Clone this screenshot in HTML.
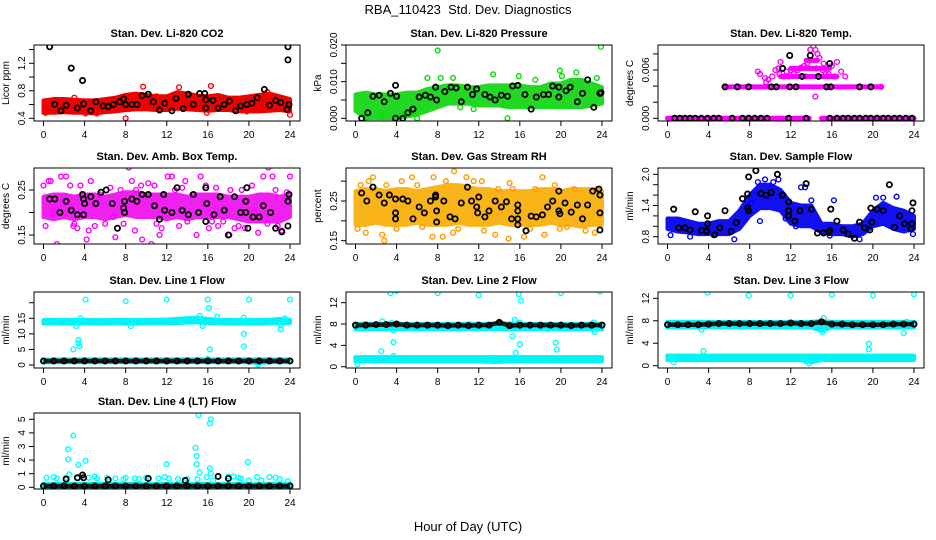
<!DOCTYPE html>
<html><head><meta charset="utf-8">
<style>
html,body{margin:0;padding:0;background:#fff;}
svg{display:block;font-family:"Liberation Sans",Arial,sans-serif;}
svg text{white-space:pre;}
</style></head>
<body>
<svg id="chart" width="936" height="540" viewBox="0 0 936 540">
<rect x="0" y="0" width="936" height="540" fill="#fff"/>
<text x="468" y="14" text-anchor="middle" font-size="13" xml:space="preserve">RBA_110423  Std. Dev. Diagnostics</text>
<text x="468" y="531" text-anchor="middle" font-size="13">Hour of Day (UTC)</text>
</svg>
<script>
// ---------------- DATA ----------------
const xTicks = [0,4,8,12,16,20,24];

// CO2
const co2Lo = [0.48,0.48,0.49,0.48,0.48,0.47,0.49,0.50,0.52,0.53,0.53,0.52,0.52,0.54,0.53,0.52,0.51,0.52,0.52,0.50,0.50,0.50,0.51,0.52,0.50];
const co2Hi = [0.66,0.68,0.68,0.67,0.66,0.66,0.68,0.70,0.74,0.76,0.74,0.72,0.72,0.78,0.76,0.73,0.72,0.74,0.70,0.70,0.72,0.74,0.76,0.72,0.68];
const co2Pts = [[8,0.4],[9.7,0.86],[13.2,0.85],[16.3,0.87],[24,0.45],[4.1,0.47],[0.2,0.48],[15.9,0.48],[19.8,0.5],[5.2,0.47],[3,0.7],[11,0.72],[21.8,0.78]];
const co2Blk = [[0.6,1.44],[2.7,1.13],[3.8,0.95],[23.8,1.44],[23.8,1.25],[1.1,0.6],[1.7,0.51],[2.2,0.59],[3.3,0.55],[3.9,0.61],[4.6,0.51],[5.1,0.64],[5.8,0.58],[6.3,0.57],[6.8,0.6],[7.4,0.64],[7.8,0.68],[8.0,0.6],[8.6,0.6],[9.1,0.6],[9.6,0.73],[10.2,0.75],[10.7,0.64],[11.3,0.52],[11.8,0.62],[12.5,0.51],[12.9,0.69],[13.6,0.54],[14.1,0.75],[14.6,0.6],[15.2,0.76],[15.7,0.76],[15.8,0.67],[15.8,0.55],[16.5,0.66],[17.0,0.55],[17.6,0.6],[18.1,0.65],[18.7,0.51],[19.2,0.58],[19.8,0.6],[20.3,0.62],[20.8,0.7],[21.5,0.82],[22.0,0.59],[22.6,0.66],[23.1,0.63],[23.7,0.53],[23.9,0.6]];

// Pressure
const prLo = [0.002,0.0,0.0,0.0,0.0,0.0005,0.001,0.002,0.003,0.004,0.004,0.004,0.0035,0.0035,0.0035,0.003,0.003,0.003,0.003,0.003,0.003,0.003,0.003,0.0035,0.004];
const prHi = [0.0065,0.007,0.0065,0.0065,0.0065,0.007,0.007,0.008,0.0085,0.009,0.009,0.0085,0.0085,0.009,0.009,0.009,0.009,0.0085,0.0085,0.0095,0.0095,0.0105,0.0105,0.0095,0.0085];
const prPts = [[8,0.0185],[23.9,0.0195],[7,0.011],[8.3,0.011],[9.5,0.011],[13.4,0.012],[15.9,0.0115],[19.9,0.013],[21.5,0.0125],[20.1,0.0115],[14.8,0.0],[14.5,0.0035],[6,0.0],[10.2,0.003],[11.5,0.0025],[17.5,0.0105],[23.5,0.011],[1,0.0002],[2.5,0.0005],[4.5,0.001],[5.5,0.0015]];
const prBlk = [[0.6,0.0],[1.2,0.0015],[1.7,0.006],[2.3,0.0063],[2.8,0.0045],[3.4,0.0068],[3.9,0.009],[4.0,0.006],[3.9,0.0],[4.6,0.0],[5.1,0.0015],[5.6,0.0025],[6.2,0.0058],[6.8,0.0063],[7.3,0.0058],[7.8,0.0085],[7.9,0.005],[8.7,0.0073],[9.3,0.0085],[9.8,0.0083],[10.3,0.0045],[10.9,0.0085],[11.4,0.0065],[11.8,0.008],[12.6,0.0065],[13.1,0.0058],[13.6,0.005],[14.2,0.0063],[14.8,0.006],[15.3,0.0088],[15.8,0.009],[16.5,0.0065],[17.1,0.0025],[17.6,0.0058],[18.3,0.0065],[18.8,0.0065],[19.2,0.0088],[19.8,0.0085],[19.8,0.0058],[20.5,0.0075],[20.9,0.0085],[21.6,0.0045],[22.1,0.0068],[22.6,0.0105],[23.2,0.003],[23.9,0.007],[23.8,0.0068]];

// Li-820 Temp: level segments [start hour, end hour, value]
const tmSegs = [[0,13.8,0],[15,24,0],[5.5,20.8,0.0039],[11,16.5,0.0052],[12,15.8,0.0062],[13.5,14.6,0.0072]];
const tmPts = [[8.8,0.0058],[9.0,0.0055],[9.5,0.005],[9.6,0.0045],[9.8,0.0048],[10.2,0.0052],[10.5,0.006],[10.9,0.0055],[11.0,0.007],[11.4,0.0052],[11.6,0.0058],[12.3,0.0055],[12.7,0.006],[13.0,0.0063],[13.3,0.0065],[13.6,0.0068],[13.9,0.0085],[14.0,0.0095],[14.2,0.009],[14.4,0.0085],[14.6,0.008],[14.8,0.0075],[15.1,0.006],[15.4,0.0055],[15.7,0.0055],[16.0,0.0065],[16.5,0.007],[16.9,0.0058],[17.3,0.0052],[14.4,0.0027],[12.0,0.006],[10.8,0.0062],[13.5,0.0052],[14.5,0.0062],[15.2,0.0068],[16.3,0.0052],[11.8,0.0052],[20.8,0.0039]];
const tmBlk0 = [0.7,1.2,1.7,2.2,2.7,3.3,3.9,4.5,5.0,6.3,7.3,7.9,8.5,9.1,9.7,11.8,13.5,15.8,16.5,17.1,17.6,18.2,18.7,19.3,19.8,20.4,21.0,21.5,22.1,22.6,23.2,23.8];
const tmBlk = [[5.6,0.0039],[6.8,0.0039],[7.9,0.0039],[10.1,0.0039],[10.6,0.0039],[11.9,0.0039],[12.5,0.0039],[15.5,0.0039],[15.9,0.0039],[18.7,0.0039],[19.8,0.0039],[11.9,0.0078],[11.2,0.0062],[13.9,0.0078],[13.1,0.0052],[14.7,0.0052],[15.8,0.0068]];

// Amb Box Temp
const abLo = [0.19,0.185,0.19,0.185,0.19,0.19,0.185,0.19,0.195,0.19,0.19,0.19,0.185,0.19,0.185,0.19,0.19,0.19,0.19,0.185,0.18,0.18,0.18,0.18,0.19];
const abHi = [0.235,0.24,0.24,0.235,0.24,0.24,0.235,0.24,0.245,0.245,0.24,0.24,0.24,0.24,0.235,0.24,0.24,0.24,0.235,0.235,0.235,0.24,0.24,0.235,0.24];
const abPts = [[0,0.26],[0.5,0.27],[0.7,0.27],[0.2,0.17],[1.3,0.13],[1.7,0.28],[2.2,0.28],[2.6,0.26],[2.9,0.17],[3.3,0.165],[3.6,0.26],[4.2,0.14],[4.4,0.16],[4.6,0.27],[5.5,0.24],[6.0,0.175],[6.5,0.255],[7.0,0.145],[7.5,0.25],[8.3,0.3],[8.6,0.27],[8.9,0.16],[9.5,0.26],[9.6,0.14],[10.2,0.265],[10.5,0.13],[10.8,0.26],[11.3,0.15],[11.5,0.165],[12.1,0.28],[12.5,0.28],[13.2,0.17],[13.8,0.27],[14.0,0.18],[14.5,0.24],[14.9,0.15],[15.3,0.28],[15.8,0.26],[16.1,0.165],[16.4,0.18],[17.0,0.17],[17.5,0.18],[18.1,0.15],[18.6,0.165],[19.0,0.17],[19.6,0.165],[20.3,0.26],[20.9,0.155],[21.4,0.28],[21.9,0.3],[22.3,0.28],[22.6,0.25],[22.8,0.17],[23.2,0.16],[23.7,0.245],[24.0,0.28],[5.0,0.17],[6.8,0.19],[9.0,0.25],[12.8,0.25],[19.3,0.25],[20.5,0.2],[1.0,0.2],[3.0,0.175],[7.8,0.175],[11.0,0.175],[13.5,0.255],[16.8,0.255],[18.2,0.25],[21.8,0.175]];
const abBlk = [[0.6,0.23],[1.1,0.23],[1.6,0.2],[2.2,0.225],[2.7,0.205],[3.3,0.195],[3.8,0.24],[3.9,0.23],[4.0,0.22],[3.9,0.195],[4.6,0.235],[5.1,0.22],[5.6,0.245],[6.1,0.25],[6.7,0.22],[7.2,0.165],[7.9,0.225],[7.8,0.21],[7.9,0.2],[8.6,0.23],[9.1,0.225],[9.6,0.24],[10.2,0.24],[10.8,0.215],[11.3,0.185],[11.7,0.24],[11.8,0.205],[12.5,0.2],[13.0,0.255],[13.5,0.205],[14.1,0.195],[14.6,0.24],[15.1,0.2],[15.8,0.255],[15.8,0.18],[15.9,0.22],[16.6,0.195],[17.2,0.235],[17.6,0.205],[18.0,0.15],[18.6,0.235],[19.2,0.2],[19.7,0.2],[19.7,0.225],[19.8,0.255],[19.9,0.165],[20.4,0.19],[21.0,0.19],[21.4,0.215],[22.1,0.2],[22.6,0.165],[23.2,0.157],[23.8,0.225],[23.9,0.24],[23.8,0.17]];

// Gas Stream RH
const rhLo = [0.19,0.19,0.195,0.19,0.19,0.19,0.195,0.19,0.19,0.19,0.195,0.19,0.19,0.19,0.195,0.19,0.19,0.19,0.19,0.195,0.19,0.19,0.185,0.19,0.19];
const rhHi = [0.275,0.28,0.28,0.275,0.28,0.28,0.275,0.28,0.285,0.29,0.29,0.285,0.28,0.28,0.275,0.275,0.275,0.275,0.28,0.28,0.275,0.28,0.28,0.28,0.275];
const rhPts = [[0.5,0.29],[1.3,0.3],[1.7,0.31],[1.0,0.17],[2.6,0.165],[2.8,0.15],[3.3,0.27],[4.5,0.3],[5.5,0.31],[6.0,0.29],[7.6,0.31],[7.5,0.16],[8.5,0.16],[8.8,0.3],[9.6,0.325],[9.5,0.17],[10.8,0.31],[11.5,0.3],[12.3,0.3],[13.6,0.165],[13.9,0.28],[14.9,0.155],[15.3,0.28],[16.4,0.16],[17.5,0.28],[18.2,0.31],[18.4,0.165],[19.4,0.29],[19.9,0.18],[21.3,0.28],[22.4,0.175],[23.3,0.17],[23.5,0.28],[4,0.18],[12.5,0.175],[20.6,0.185],[0.2,0.18],[6.5,0.185],[10,0.18],[17,0.18],[3,0.29],[15,0.295]];
const rhBlk = [[0.6,0.27],[1.1,0.25],[1.7,0.285],[2.3,0.265],[2.8,0.245],[3.3,0.265],[3.9,0.255],[3.9,0.22],[3.9,0.205],[4.6,0.255],[5.1,0.25],[5.6,0.205],[6.2,0.235],[6.7,0.22],[7.3,0.25],[7.8,0.26],[7.8,0.265],[7.9,0.225],[7.9,0.197],[8.6,0.25],[9.2,0.21],[9.7,0.205],[10.3,0.245],[10.9,0.285],[11.3,0.25],[11.8,0.235],[11.9,0.22],[12.0,0.26],[12.6,0.21],[13.0,0.225],[13.6,0.25],[14.2,0.235],[14.7,0.248],[15.2,0.205],[15.8,0.24],[15.8,0.225],[15.8,0.205],[15.8,0.19],[16.6,0.175],[17.1,0.212],[17.6,0.21],[18.2,0.215],[18.7,0.235],[19.2,0.25],[19.8,0.275],[19.8,0.225],[19.9,0.218],[20.4,0.245],[21.0,0.222],[21.6,0.24],[22.1,0.205],[22.6,0.24],[23.1,0.275],[23.7,0.28],[23.8,0.265],[23.8,0.22],[23.8,0.177]];

// Sample Flow
const sfLo = [0.95,0.9,0.88,0.85,0.85,0.85,0.85,0.95,1.2,1.35,1.35,1.3,1.05,1.0,1.0,0.88,0.85,0.85,0.8,0.85,1.0,1.05,0.95,0.9,0.95];
const sfHi = [1.15,1.15,1.1,1.05,1.05,1.1,1.1,1.3,1.6,1.8,1.8,1.7,1.45,1.4,1.4,1.05,1.05,1.0,1.0,1.05,1.3,1.45,1.35,1.3,1.2];
const sfPts = [[0.3,0.83],[2.2,0.8],[4.5,0.83],[6.5,0.75],[8.8,1.85],[10.8,1.9],[11.3,1.6],[13.0,1.75],[13.4,1.75],[14.0,1.5],[16.2,1.5],[15.8,0.82],[18.7,0.75],[20.3,1.55],[21.0,1.55],[22.3,1.57],[23.9,0.85],[12.5,1.0],[9,1.1],[11.5,1.15],[8.2,1.45],[9.5,1.9],[10.3,1.85]];
const sfBlk = [[0.6,1.33],[1.1,0.97],[1.7,0.97],[2.2,0.93],[2.7,1.28],[3.3,0.92],[3.8,0.9],[3.8,0.92],[3.9,1.2],[3.9,1.05],[4.6,0.84],[5.1,0.97],[5.6,1.3],[6.2,0.9],[6.7,1.07],[7.3,1.53],[7.8,1.62],[7.8,1.35],[7.9,1.3],[7.9,1.95],[8.6,2.07],[9.1,1.63],[9.6,1.6],[10.1,1.65],[10.7,2.0],[11.2,1.6],[11.8,1.47],[11.8,1.3],[11.8,1.2],[12.4,1.1],[12.9,1.3],[13.5,1.82],[14.0,1.33],[14.6,0.87],[15.2,0.87],[15.7,0.88],[15.8,0.92],[15.9,1.33],[16.5,1.1],[17.1,0.93],[17.6,0.85],[18.2,0.77],[18.7,1.08],[19.2,0.97],[19.7,0.93],[19.8,1.35],[19.9,1.08],[20.4,1.33],[21.0,1.3],[21.6,1.8],[22.1,0.98],[22.6,1.2],[23.1,1.05],[23.7,0.95],[23.8,1.3],[23.8,1.05],[23.9,1.45]];

// Line 1 Flow
const l1UpLo = [13.3,13.4,13.3,13.3,13.4,13.3,13.3,13.4,13.3,13.3,13.4,13.4,13.4,13.5,13.6,13.7,13.5,13.4,13.3,13.3,13.3,13.3,13.4,13.5,13.4];
const l1UpHi = [14.4,14.5,14.4,14.5,14.5,14.4,14.4,14.5,14.5,14.4,14.5,14.5,14.6,14.8,15.0,15.2,14.8,14.5,14.5,14.4,14.4,14.5,14.5,14.8,14.5];
const l1LoLo = [0.8,0.9,0.9,0.9,0.9,0.9,0.9,0.9,0.9,0.9,0.9,0.9,0.9,0.9,0.9,0.9,0.9,0.9,0.9,0.9,0.9,0.6,0.9,0.9,0.9];
const l1LoHi = [1.7,1.8,1.8,1.8,1.8,1.8,1.8,1.8,1.8,1.8,1.8,1.8,1.8,1.8,1.8,1.8,1.8,1.8,1.8,1.8,1.8,1.8,1.8,1.8,1.8];
const l1Blk = [1.3,1.3,1.3,1.3,1.3,1.3,1.3,1.3,1.3,1.3,1.3,1.3,1.3,1.3,1.3,1.3,1.3,1.3,1.3,1.3,1.3,1.3,1.3,1.3,1.3];
const l1Pts = [[4.1,21],[8,20.5],[12,21],[16,21],[20,21],[24,21],[16.1,18.3],[16.9,15.5],[15.2,15.8],[15.5,12.5],[8.5,12.5],[3.2,12.5],[3.4,8],[3.4,7],[3.5,6],[2.9,5],[16.2,5],[19.5,10],[19.5,6],[19.5,15.2],[23.1,11.5],[23.1,12.7],[23.5,15],[20.9,0.2],[21,1],[0.1,1.2],[3.6,15],[16,2]];

// Line 2 Flow
const l2UpLo = [7.0,7.0,7.1,7.0,7.0,7.1,7.0,7.0,7.1,7.0,7.0,7.1,7.0,7.0,7.1,7.0,7.0,7.0,7.0,7.1,7.0,7.0,7.0,7.0,7.0];
const l2UpHi = [8.0,8.1,8.0,8.1,8.0,8.0,8.0,8.0,8.0,8.0,8.0,8.1,8.0,8.0,8.1,8.1,8.0,8.0,8.0,8.0,8.0,8.0,8.0,8.1,8.0];
const l2LoLo = [1.0,1.0,1.0,1.0,1.0,1.0,1.0,1.0,1.0,1.0,1.0,1.0,1.0,0.9,0.9,1.0,1.0,1.0,1.0,1.0,1.0,1.0,1.0,1.0,1.0];
const l2LoHi = [1.8,1.8,1.8,1.8,1.8,1.8,1.8,1.8,1.8,1.8,1.8,1.8,1.8,1.8,1.8,1.8,1.8,1.8,1.8,1.8,1.8,1.8,1.8,1.8,1.8];
const l2Blk = [7.8,7.8,7.9,7.9,8.0,7.8,7.8,7.8,7.8,7.7,7.8,7.7,7.8,7.8,8.3,7.7,7.8,7.8,7.8,7.8,7.8,7.7,7.8,7.8,7.8];
const l2Pts = [[0.2,0.5],[2.5,2.9],[2.6,8.5],[3.4,13.8],[3.7,4.6],[3.7,2.0],[3.5,8.2],[4.0,14.2],[8.0,13.8],[12.0,13.4],[15.3,5.7],[15.5,8.8],[15.6,2.6],[16.0,8.3],[16.0,4.2],[15.9,13.6],[16.1,12.4],[18.7,7.0],[19.5,4.5],[19.6,3.2],[20.0,13.8],[23.3,6.5],[23.8,14.1],[23.2,8.3],[13.5,1.0],[3.7,6.8]];

// Line 3 Flow
const l3UpLo = [6.8,6.8,6.8,6.8,6.9,6.8,6.8,6.8,6.8,6.8,6.8,6.8,6.8,6.8,6.8,6.2,6.8,6.8,6.8,6.8,6.8,6.8,6.8,6.8,6.8];
const l3UpHi = [7.8,7.8,7.8,7.8,7.8,7.8,7.8,7.8,7.8,7.8,7.8,7.8,7.8,7.8,7.8,8.0,7.8,7.8,7.8,7.8,7.8,7.8,7.8,7.8,7.8];
const l3LoLo = [1.0,1.0,1.0,1.0,1.0,1.0,1.0,1.0,1.0,1.0,1.0,1.0,1.0,1.0,0.6,1.0,1.0,1.0,1.0,1.0,1.0,1.0,1.0,1.0,1.0];
const l3LoHi = [1.8,1.8,1.8,1.8,1.8,1.8,1.8,1.8,1.8,1.8,1.8,1.8,1.8,1.8,1.8,1.8,1.8,1.8,1.8,1.8,1.8,1.8,1.8,1.8,1.8];
const l3Blk = [7.3,7.3,7.3,7.3,7.4,7.5,7.5,7.5,7.5,7.5,7.5,7.5,7.6,7.5,7.5,7.8,7.4,7.4,7.3,7.3,7.3,7.3,7.4,7.4,7.4];
const l3Pts = [[0.4,1.3],[0.6,0.6],[3.9,13.0],[3.5,2.6],[3.3,6.4],[7.9,12.5],[12.0,12.5],[13.8,0.4],[15.2,8.5],[15.1,6.0],[16.0,12.6],[19.6,3.9],[19.6,2.9],[20.0,12.5],[23.0,5.8],[23.3,7.8],[24.0,12.7],[13.5,0.8]];

// Line 4 (LT) Flow
const l4Lo = [0,0,0,0,0,0,0,0,0,0,0,0,0,0,0,0,0,0,0,0,0,0,0,0,0];
const l4Hi = [0.25,0.25,0.25,0.25,0.25,0.25,0.25,0.25,0.25,0.25,0.25,0.25,0.25,0.25,0.25,0.25,0.25,0.25,0.25,0.25,0.25,0.25,0.25,0.25,0.25];
const l4Blk = [0.1,0.1,0.1,0.1,0.1,0.1,0.1,0.1,0.1,0.1,0.1,0.1,0.1,0.1,0.1,0.1,0.1,0.1,0.1,0.1,0.1,0.1,0.1,0.1,0.1];
const l4Pts = [[0.3,0.7],[1.0,0.75],[1.3,0.65],[2.2,0.7],[2.4,2.8],[2.4,2.05],[2.5,0.95],[2.9,3.8],[3.4,1.65],[3.3,0.7],[4.1,1.95],[4.4,0.7],[5.0,0.8],[5.2,0.65],[6.2,0.7],[7.0,0.65],[7.8,0.6],[8.0,0.7],[8.9,0.65],[9.3,0.6],[10.0,0.7],[11.2,0.65],[11.8,0.75],[12.0,1.7],[12.2,0.65],[13.1,0.6],[14.0,0.6],[14.8,2.9],[14.9,2.3],[14.9,1.7],[15.1,5.3],[15.2,1.1],[15.0,0.6],[15.9,0.75],[16.2,1.4],[16.2,4.7],[16.3,5.0],[16.3,1.0],[16.5,0.5],[17.0,0.8],[18.0,0.8],[18.5,0.8],[19.0,0.7],[19.2,0.65],[19.9,1.85],[20.0,0.5],[20.8,0.75],[21.2,0.5],[22.0,0.75],[22.6,0.7],[23.0,0.6],[23.8,0.45]];
const l4BlkPts = [[2.2,0.6],[3.3,0.7],[3.8,0.9],[3.9,0.7],[6.3,0.55],[10.2,0.65],[13.8,0.5],[17.0,0.8],[18.0,0.65]];

// ---------------- RENDER ----------------
const NS = "http://www.w3.org/2000/svg";
const svg = document.getElementById('chart');
function mk(tag, attrs, parent){
  const e = document.createElementNS(NS, tag);
  for (const k in attrs) e.setAttribute(k, attrs[k]);
  (parent||svg).appendChild(e);
  return e;
}
const colLefts = [34, 346, 658];
const rowTops = [45, 168, 292, 413];
const BW = 266, BH = 76;

function panel(cfg){
  const L = colLefts[cfg.col], T = rowTops[cfg.row];
  const g = mk('g', {});
  
  
  const x0 = L + 9.5, x24 = L + 256;
  const xs = h => x0 + h/24*(x24-x0);
  const [v1,p1,v2,p2] = cfg.ymap;
  const ys = v => p1 + (v - v1)/(v2 - v1)*(p2 - p1);
  const cid = 'clip' + cfg.name;
  const cp = mk('clipPath', {id: cid}, g);
  mk('rect', {x:L, y:T, width:BW, height:BH}, cp);
  const plot = mk('g', {'clip-path':'url(#'+cid+')'}, g);
  
  
  (cfg.bands||[]).forEach(b => {
    let pts = [];
    b.lo.forEach((v,i) => pts.push(xs(i)+','+ys(b.hi[i])));
    for (let i=b.lo.length-1;i>=0;i--) pts.push(xs(i)+','+ys(b.lo[i]));
    const poly = mk('polygon', {points: pts.join(' '), fill: b.color, stroke: b.color, 'stroke-width': 4, 'stroke-linejoin':'round'}, plot);
    
    
  });
  (cfg.segs||[]).forEach(s => {
    const ln = mk('line', {x1: xs(s[0]), x2: xs(s[1]), y1: ys(s[2]), y2: ys(s[2]), stroke: cfg.color, 'stroke-width': 5, 'stroke-linecap':'round'}, plot);
    
    
  });
  (cfg.pts||[]).forEach(p => {
    const c = mk('circle', {cx: xs(p[0]), cy: ys(p[1]), r: 2.4, fill: 'none', stroke: cfg.color, 'stroke-width': 1.4}, plot);
    
    
  });
  if (cfg.blkLine){
    const pl = mk('polyline', {points: cfg.blkLine.map((v,i)=>xs(i)+','+ys(v)).join(' '), fill:'none', stroke:'#1a1a1a', 'stroke-width':4.5}, plot);
    
    
    cfg.blkLine.forEach((v,i) => {
      const c = mk('circle', {cx: xs(i), cy: ys(v), r: 2.6, fill: 'none', stroke: '#000', 'stroke-width': 1.8}, plot);
      
      
    });
  }
  (cfg.blk0||[]).forEach(h => {
    const c = mk('circle', {cx: xs(h), cy: ys(0), r: 2.6, fill: 'none', stroke: '#000', 'stroke-width': 1.8}, plot);
    
    
  });
  (cfg.blk||[]).forEach(p => {
    const c = mk('circle', {cx: xs(p[0]), cy: ys(p[1]), r: 2.6, fill: 'none', stroke: '#000', 'stroke-width': 1.8}, plot);
    
    
  });
  const box = mk('rect', {x:L, y:T, width:BW, height:BH, fill:'none', stroke:'#000', 'stroke-width':1}, g);
  
  
  const xb = T + BH;
  mk('line', {x1: xs(0), x2: xs(24), y1: xb, y2: xb, stroke:'#000'}, g);
  xTicks.forEach(t => {
    mk('line', {x1: xs(t), x2: xs(t), y1: xb, y2: xb+5, stroke:'#000'}, g);
    const tx = mk('text', {x: xs(t), y: xb+17, 'text-anchor':'middle', 'font-size':10}, g);
    
    
    tx.textContent = t;
  });
  const yt = cfg.yticks;
  mk('line', {x1: L, x2: L, y1: ys(yt[0]), y2: ys(yt[yt.length-1]), stroke:'#000'}, g);
  yt.forEach((t,i) => {
    mk('line', {x1: L-5, x2: L, y1: ys(t), y2: ys(t), stroke:'#000'}, g);
    const lab = cfg.ylabels[i];
    if (lab){
      const tx = mk('text', {x: L-9, y: ys(t), 'text-anchor':'middle', 'font-size':10, transform:'rotate(-90 '+(L-9)+' '+ys(t)+')'}, g);
      
      
      tx.textContent = lab;
    }
  });
  const yc = T + BH/2, yx = L - 25;
  const yt2 = mk('text', {x: yx, y: yc, 'text-anchor':'middle', 'font-size':10, transform:'rotate(-90 '+yx+' '+yc+')'}, g);
  
  
  yt2.textContent = cfg.ytitle;
  const tt = mk('text', {x: L + BW/2, y: T - 8, 'text-anchor':'middle', 'font-size':11, 'font-weight':'bold'}, g);
  
  
  tt.textContent = cfg.title;
}

panel({name:'co2-panel', col:0,row:0,title:'Stan. Dev. Li-820 CO2', ytitle:'Licor ppm', ymap:[1.2,63.3,0.4,118.3],
  yticks:[0.4,0.6,0.8,1.0,1.2,1.4], ylabels:['0.4','','0.8','','1.2',''], color:'#ff0000',
  bands:[{lo:co2Lo,hi:co2Hi,color:'#f00000'}], pts:co2Pts, blk:co2Blk});
panel({name:'pressure-panel', col:1,row:0,title:'Stan. Dev. Li-820 Pressure', ytitle:'kPa', ymap:[0,118.3,0.02,45],
  yticks:[0,0.005,0.01,0.015,0.02], ylabels:['0.000','','0.010','','0.020'], color:'#00e000',
  bands:[{lo:prLo,hi:prHi,color:'#22d822'}], pts:prPts, blk:prBlk});
panel({name:'licor-temp-panel', col:2,row:0,title:'Stan. Dev. Li-820 Temp.', ytitle:'degrees C', ymap:[0,118.3,0.006,70],
  yticks:[0,0.002,0.004,0.006,0.008], ylabels:['0.000','','','0.006',''], color:'#ff00ff',
  segs:tmSegs, pts:tmPts, blk0:tmBlk0, blk:tmBlk});
panel({name:'amb-box-temp-panel', col:0,row:1,title:'Stan. Dev. Amb. Box Temp.', ytitle:'degrees C', ymap:[0.25,190,0.15,235],
  yticks:[0.15,0.2,0.25], ylabels:['0.15','','0.25'], color:'#ff00ff',
  bands:[{lo:abLo,hi:abHi,color:'#f020f0'}], pts:abPts, blk:abBlk});
panel({name:'gas-rh-panel', col:1,row:1,title:'Stan. Dev. Gas Stream RH', ytitle:'percent', ymap:[0.25,201,0.15,240.7],
  yticks:[0.15,0.2,0.25,0.3], ylabels:['0.15','','0.25',''], color:'#ff9900',
  bands:[{lo:rhLo,hi:rhHi,color:'#f8b418'}], pts:rhPts, blk:rhBlk});
panel({name:'sample-flow-panel', col:2,row:1,title:'Stan. Dev. Sample Flow', ytitle:'ml/min', ymap:[2.0,174.3,0.8,236.7],
  yticks:[0.8,1.0,1.2,1.4,1.6,1.8,2.0], ylabels:['0.8','','','1.4','','','2.0'], color:'#0000ff',
  bands:[{lo:sfLo,hi:sfHi,color:'#1010f0'}], pts:sfPts, blk:sfBlk});
panel({name:'line1-flow-panel', col:0,row:2,title:'Stan. Dev. Line 1 Flow', ytitle:'ml/min', ymap:[0,365,15,318.3],
  yticks:[0,5,10,15,20], ylabels:['0','5','10','15',''], color:'#00ffff',
  bands:[{lo:l1UpLo,hi:l1UpHi,color:'#00f4f4'},{lo:l1LoLo,hi:l1LoHi,color:'#00f4f4'}], pts:l1Pts, blkLine:l1Blk});
panel({name:'line2-flow-panel', col:1,row:2,title:'Stan. Dev. Line 2 Flow', ytitle:'ml/min', ymap:[0,366.7,12,302.7],
  yticks:[0,4,8,12], ylabels:['0','4','8','12'], color:'#00ffff',
  bands:[{lo:l2UpLo,hi:l2UpHi,color:'#00f4f4'},{lo:l2LoLo,hi:l2LoHi,color:'#00f4f4'}], pts:l2Pts, blkLine:l2Blk});
panel({name:'line3-flow-panel', col:2,row:2,title:'Stan. Dev. Line 3 Flow', ytitle:'ml/min', ymap:[0,365.7,12,298.3],
  yticks:[0,4,8,12], ylabels:['0','4','8','12'], color:'#00ffff',
  bands:[{lo:l3UpLo,hi:l3UpHi,color:'#00f4f4'},{lo:l3LoLo,hi:l3LoHi,color:'#00f4f4'}], pts:l3Pts, blkLine:l3Blk});
panel({name:'line4-flow-panel', col:0,row:3,title:'Stan. Dev. Line 4 (LT) Flow', ytitle:'ml/min', ymap:[0,487.3,5,419.3],
  yticks:[0,1,2,3,4,5], ylabels:['0','1','2','3','4','5'], color:'#00ffff',
  bands:[{lo:l4Lo,hi:l4Hi,color:'#00f4f4'}], pts:l4Pts, blkLine:l4Blk, blk:l4BlkPts});
</script>
</body></html>
